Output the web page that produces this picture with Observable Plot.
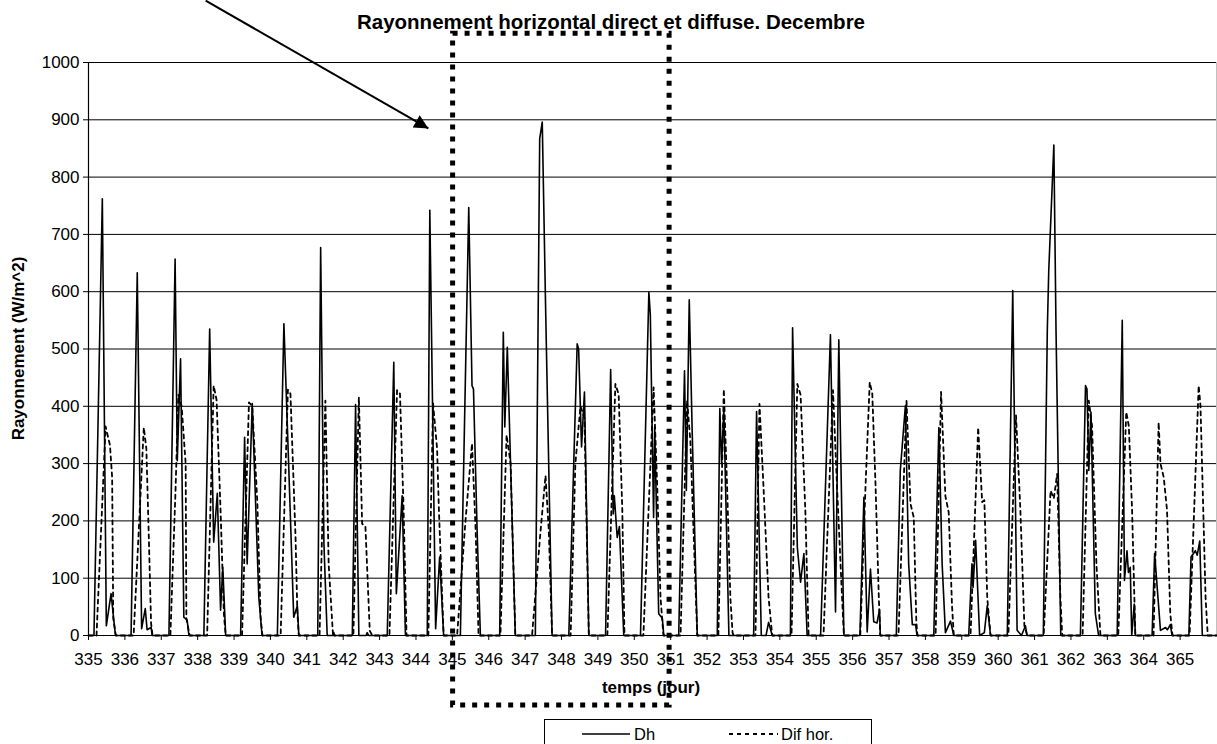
<!DOCTYPE html>
<html><head><meta charset="utf-8">
<script src="https://cdn.jsdelivr.net/npm/d3@7"></script>
<script src="https://cdn.jsdelivr.net/npm/@observablehq/plot@0.6"></script>
<style>
html,body{margin:0;padding:0;background:#fff;}
#chart svg{display:block;}
</style>
</head><body><div id="chart"></div>
<script>
const chartTitle = "Rayonnement horizontal direct et diffuse. Decembre";
const xLabel = "temps (jour)";
const yLabel = "Rayonnement (W/m^2)";
const seriesNames = ["Dh", "Dif hor."];
const xTicks = [335,336,337,338,339,340,341,342,343,344,345,346,347,348,349,350,351,352,353,354,355,356,357,358,359,360,361,362,363,364,365];
const yTicks = [0,100,200,300,400,500,600,700,800,900,1000];
const xDomain = [335, 366];
const yDomain = [0, 1000];

// Dh : [day, W/m^2]
const dh = [
[335.00,0],[335.15,0],[335.38,762],[335.49,17],[335.62,73],[335.74,0],
[336.17,0],[336.34,633],[336.46,12],[336.56,47],[336.61,10],[336.72,14],[336.75,0],
[337.21,0],[337.38,657],[337.44,305],[337.53,483],[337.62,32],[337.71,27],[337.76,0],
[338.17,0],[338.33,535],[338.44,163],[338.54,248],[338.63,44],[338.69,119],[338.77,0],
[339.18,0],[339.29,346],[339.36,125],[339.50,405],[339.68,67],[339.77,0],
[340.19,0],[340.37,544],[340.50,300],[340.64,32],[340.74,52],[340.78,0],
[341.30,0],[341.38,677],[341.47,160],[341.56,0],
[342.25,0],[342.34,403],[342.43,0],[342.63,0],[342.66,5],[342.70,0],
[343.21,0],[343.39,477],[343.46,73],[343.62,244],[343.71,0],
[344.31,0],[344.38,742],[344.54,12],[344.65,137],[344.76,0],
[345.22,0],[345.45,747],[345.54,436],[345.58,430],[345.68,183],[345.77,0],
[346.30,0],[346.40,529],[346.44,364],[346.51,503],[346.73,0],
[347.28,0],[347.40,867],[347.47,896],[347.56,580],[347.74,0],
[348.20,0],[348.43,509],[348.47,500],[348.55,329],[348.63,425],[348.75,0],
[349.21,0],[349.35,464],[349.42,212],[349.45,244],[349.53,171],[349.59,190],[349.71,0],
[350.17,0],[350.40,599],[350.44,560],[350.53,206],[350.56,364],[350.67,38],[350.77,30],[350.81,0],
[351.22,0],[351.38,462],[351.43,253],[351.51,586],[351.59,358],[351.73,0],
[352.28,0],[352.35,396],[352.40,300],[352.46,395],[352.60,0],
[353.28,0],[353.36,391],[353.49,0],[353.62,0],[353.69,23],[353.79,0],
[354.29,0],[354.35,537],[354.48,154],[354.57,93],[354.66,143],[354.75,0],
[355.12,0],[355.39,525],[355.53,41],[355.62,516],[355.76,0],
[356.20,0],[356.31,241],[356.40,6],[356.49,116],[356.58,24],[356.67,22],[356.74,45],[356.76,0],
[357.20,0],[357.31,288],[357.45,401],[357.54,125],[357.64,19],[357.73,19],[357.77,0],
[358.23,0],[358.37,363],[358.46,125],[358.55,5],[358.69,25],[358.78,0],
[359.19,0],[359.28,125],[359.31,84],[359.38,166],[359.49,0],[359.62,5],[359.70,52],[359.79,0],
[360.25,0],[360.40,602],[360.52,9],[360.64,0],[360.75,17],[360.79,0],
[361.24,0],[361.35,532],[361.39,637],[361.53,856],[361.59,532],[361.72,0],
[362.26,0],[362.40,436],[362.44,430],[362.49,288],[362.55,390],[362.67,38],[362.76,0],
[363.27,0],[363.41,550],[363.47,96],[363.54,148],[363.58,110],[363.63,119],[363.67,0],[363.74,55],[363.77,0],
[364.23,0],[364.30,143],[364.37,84],[364.46,9],[364.60,14],[364.65,10],[364.73,19],[364.78,0],
[365.24,0],[365.30,137],[365.42,148],[365.47,140],[365.54,165],[365.61,0],[366.00,0]
];

// Dif hor. : [day, W/m^2]
const dif = [
[335.00,0],[335.22,0],[335.47,365],[335.59,332],[335.65,276],[335.68,30],[335.74,5],[335.76,0],
[336.24,0],[336.52,363],[336.59,326],[336.66,166],[336.72,21],[336.76,0],
[337.25,0],[337.39,250],[337.47,420],[337.56,400],[337.67,300],[337.69,30],[337.78,0],
[338.26,0],[338.44,436],[338.52,411],[338.63,217],[338.72,38],[338.77,0],
[339.22,0],[339.41,407],[339.50,400],[339.64,233],[339.73,31],[339.78,0],
[340.28,0],[340.48,429],[340.55,422],[340.69,171],[340.74,40],[340.78,0],
[341.35,0],[341.51,410],[341.60,125],[341.72,0],[341.74,5],[341.76,0],
[342.28,0],[342.43,416],[342.52,195],[342.61,191],[342.73,8],[342.80,0],
[343.27,0],[343.48,428],[343.56,422],[343.66,219],[343.74,0],
[344.34,0],[344.47,405],[344.58,326],[344.63,219],[344.76,0],
[345.13,0],[345.36,200],[345.54,335],[345.64,183],[345.72,0],
[346.32,0],[346.49,350],[346.60,300],[346.73,0],
[347.19,0],[347.42,180],[347.56,279],[347.65,183],[347.74,0],
[348.25,0],[348.38,300],[348.52,400],[348.63,380],[348.75,0],
[349.26,0],[349.48,439],[349.57,421],[349.67,219],[349.73,0],
[350.25,0],[350.53,433],[350.63,260],[350.72,67],[350.80,0],
[351.27,0],[351.45,410],[351.54,340],[351.73,0],
[352.31,0],[352.46,430],[352.55,260],[352.64,66],[352.70,5],[352.73,0],
[353.33,0],[353.44,404],[353.55,260],[353.69,66],[353.79,0],
[354.32,0],[354.48,439],[354.57,420],[354.70,219],[354.79,0],
[355.20,0],[355.46,428],[355.57,262],[355.71,66],[355.76,0],
[356.21,0],[356.35,253],[356.47,442],[356.54,422],[356.63,262],[356.72,66],[356.76,0],
[357.26,0],[357.48,410],[357.59,230],[357.68,206],[357.75,26],[357.78,0],
[358.28,0],[358.43,425],[358.55,243],[358.64,215],[358.73,54],[358.78,0],
[359.24,0],[359.45,363],[359.56,233],[359.62,236],[359.70,66],[359.79,0],
[360.28,0],[360.49,384],[360.61,219],[360.72,17],[360.80,0],
[361.25,0],[361.44,253],[361.53,239],[361.62,282],[361.71,66],[361.76,0],
[362.32,0],[362.49,410],[362.58,366],[362.70,125],[362.81,0],
[363.30,0],[363.52,390],[363.59,366],[363.68,219],[363.77,0],
[364.27,0],[364.41,372],[364.46,300],[364.55,276],[364.64,219],[364.73,38],[364.79,0],
[365.26,0],[365.51,436],[365.56,401],[365.70,66],[365.76,0],[366.00,0]
];

// annotation: highlighted period (days 345-351) and arrow pointing to it
const highlightDays = [345.02, 350.97];
const highlightValues = [-122, 1050];
const arrowDays = [338.22, 344.34];
const arrowValues = [1108, 885];

const FONT = "'Liberation Sans', Arial, Helvetica, sans-serif";

const dhRows = dh.map(([day, value]) => ({day, value}));
const difRows = dif.map(([day, value]) => ({day, value}));
const hl = [{x1: highlightDays[0], x2: highlightDays[1], y1: highlightValues[0], y2: highlightValues[1]}];
const arr = [{x1: arrowDays[0], x2: arrowDays[1], y1: arrowValues[0], y2: arrowValues[1]}];

const svg = Plot.plot({
  width: 1217, height: 744,
  marginLeft: 88, marginRight: 1, marginTop: 62, marginBottom: 109,
  style: {fontFamily: FONT, fontSize: "17px", color: "#000", background: "#fff", overflow: "visible"},
  x: {domain: xDomain, ticks: xTicks, tickSize: 5, tickPadding: 12, tickFormat: d => String(d), label: null},
  y: {domain: yDomain, ticks: yTicks, tickSize: 5, tickPadding: 4, tickFormat: d => String(d), label: null},
  marks: [
    Plot.ruleY(yTicks, {stroke: "#000", strokeWidth: 1}),
    Plot.ruleX([xDomain[1]], {stroke: "#c0c0c0", strokeWidth: 1}),
    Plot.ruleX([xDomain[0]], {stroke: "#000", strokeWidth: 1.2}),
    Plot.line(dhRows, {x: "day", y: "value", stroke: "#000", strokeWidth: 1.6, curve: "linear"}),
    Plot.line(difRows, {x: "day", y: "value", stroke: "#000", strokeWidth: 1.8, strokeDasharray: "4,4", curve: "linear"}),
    Plot.rect(hl, {x1: "x1", x2: "x2", y1: "y1", y2: "y2", fill: "none", stroke: "#000", strokeWidth: 5, strokeDasharray: "5,7"}),
    Plot.link(arr, {x1: "x1", x2: "x2", y1: "y1", y2: "y2", stroke: "#000", strokeWidth: 2})
  ]
});

const s = d3.select(svg);
// filled arrow head
const defs = s.insert("defs", ":first-child");
defs.append("marker").attr("id", "ahead").attr("viewBox", "0 -5 10 10")
  .attr("refX", 10).attr("refY", 0).attr("markerUnits", "userSpaceOnUse")
  .attr("markerWidth", 18).attr("markerHeight", 14).attr("orient", "auto")
  .append("path").attr("d", "M0,-5L10,0L0,5Z").attr("fill", "#000");
s.selectAll('g[aria-label="link"] path').attr("marker-end", "url(#ahead)");

// title
s.append("text").attr("x", 611).attr("y", 29).attr("text-anchor", "middle")
  .attr("font-family", FONT).attr("font-size", "20.5px").attr("font-weight", "bold").attr("fill", "#000")
  .text(chartTitle);
// y label
s.append("text").attr("transform", "translate(24,348.5) rotate(-90)").attr("text-anchor", "middle")
  .attr("font-family", FONT).attr("font-size", "17px").attr("font-weight", "bold").attr("fill", "#000")
  .text(yLabel);
// x label
s.append("text").attr("x", 651).attr("y", 693).attr("text-anchor", "middle")
  .attr("font-family", FONT).attr("font-size", "17px").attr("font-weight", "bold").attr("fill", "#000")
  .text(xLabel);
// legend
const lg = s.append("g").attr("font-family", FONT).attr("font-size", "16.5px").attr("fill", "#000")
  .attr("text-anchor", "start");
lg.append("rect").attr("x", 544.5).attr("y", 719.5).attr("width", 327).attr("height", 40)
  .attr("fill", "#fff").attr("stroke", "#000").attr("stroke-width", 1);
lg.append("line").attr("x1", 582).attr("x2", 630).attr("y1", 734).attr("y2", 734)
  .attr("stroke", "#000").attr("stroke-width", 1.6);
lg.append("text").attr("x", 634).attr("y", 740).attr("text-anchor", "start").text(seriesNames[0]);
lg.append("line").attr("x1", 729).attr("x2", 778).attr("y1", 734).attr("y2", 734)
  .attr("stroke", "#000").attr("stroke-width", 1.8).attr("stroke-dasharray", "4,4");
lg.append("text").attr("x", 781).attr("y", 740).attr("text-anchor", "start").text(seriesNames[1]);

document.getElementById("chart").appendChild(svg);
</script>
</body></html>
